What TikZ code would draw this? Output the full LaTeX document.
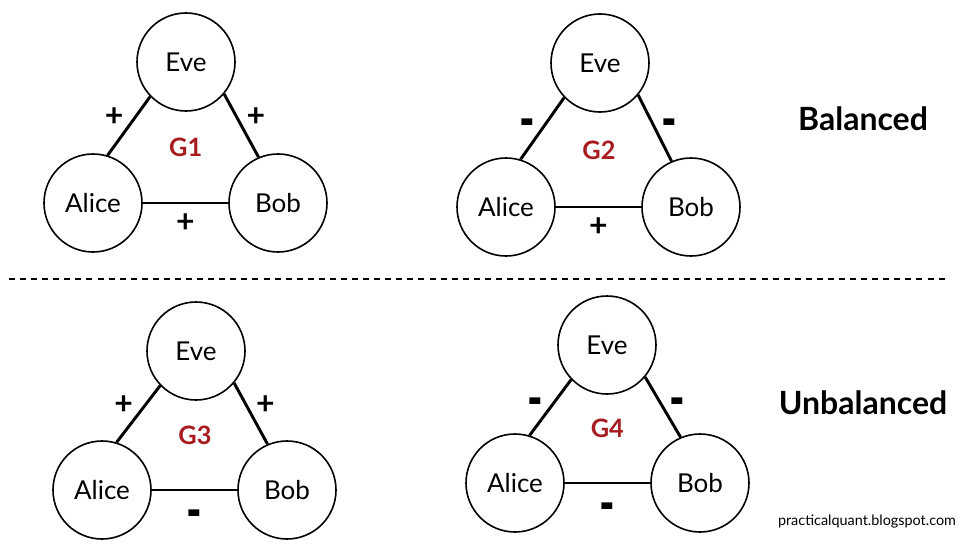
\documentclass[tikz,border=0pt]{standalone}
\usepackage{fontspec}
\setmainfont{Lato}
\definecolor{glabel}{RGB}{168,28,32}
\newcommand{\minussign}{\smash{\raisebox{-9.6pt}{\fontsize{30}{30}\selectfont\scalebox{1.05}[1.6]{-}}}\vphantom{+}}
\tikzset{
  person/.style={circle, draw, line width=1.2pt, minimum size=73.5pt, inner sep=0pt, font=\fontsize{19.5}{21}\selectfont},
  tie/.style={line width=2.2pt},
  sign/.style={font=\bfseries\fontsize{24}{26}\selectfont, inner sep=0pt},
  gname/.style={text=glabel, font=\bfseries\fontsize{19}{21}\selectfont},
  verdict/.style={font=\bfseries\fontsize{24}{26}\selectfont}
}

\begin{document}
\begin{tikzpicture}[x=0.75pt, y=-0.75pt]
  \useasboundingbox (0,0) rectangle (968,546);

  % 1. the four triads
  \foreach \g/\ex/\ey/\ax/\ay/\bx/\sl/\sr/\sb in {
      1/186/62/93/203/278/+/+/+,
      2/600/63/506/207/691/\minussign/\minussign/+,
      3/196/351/102/490/287/+/+/\minussign,
      4/607/345/515/483/700/\minussign/\minussign/\minussign}{
    \node[person] (E\g) at (\ex,\ey) {Eve};
    \node[person] (A\g) at (\ax,\ay) {Alice};
    \node[person] (B\g) at (\bx,\ay) {Bob};
    \draw[tie] (A\g.73) -- node[sign, xshift=-11pt, yshift=7pt] {\sl} (E\g.224);
    \draw[tie] (E\g.320) -- node[sign, xshift=11pt, yshift=6.5pt] {\sr} (B\g.113);
    \draw[tie] (A\g) -- node[sign, yshift=-15pt] {\sb} (B\g);
    \node[gname, yshift=6.5pt] (G\g) at (barycentric cs:A\g=1,B\g=1,E\g=1) {G\g};
  }

  % 2. separator
  \draw[line width=2.2pt, dash pattern=on 4.5pt off 3.8pt] (9,279) -- (946,279);

  % 3. verdicts
  \node[verdict] (bal) at (863,119) {Balanced};
  \node[verdict] (unbal) at (863,403) {Unbalanced};
  \node[font=\fontsize{10.8}{12}\selectfont] (src) at (867,522) {practicalquant.blogspot.com};
\end{tikzpicture}
\end{document}
